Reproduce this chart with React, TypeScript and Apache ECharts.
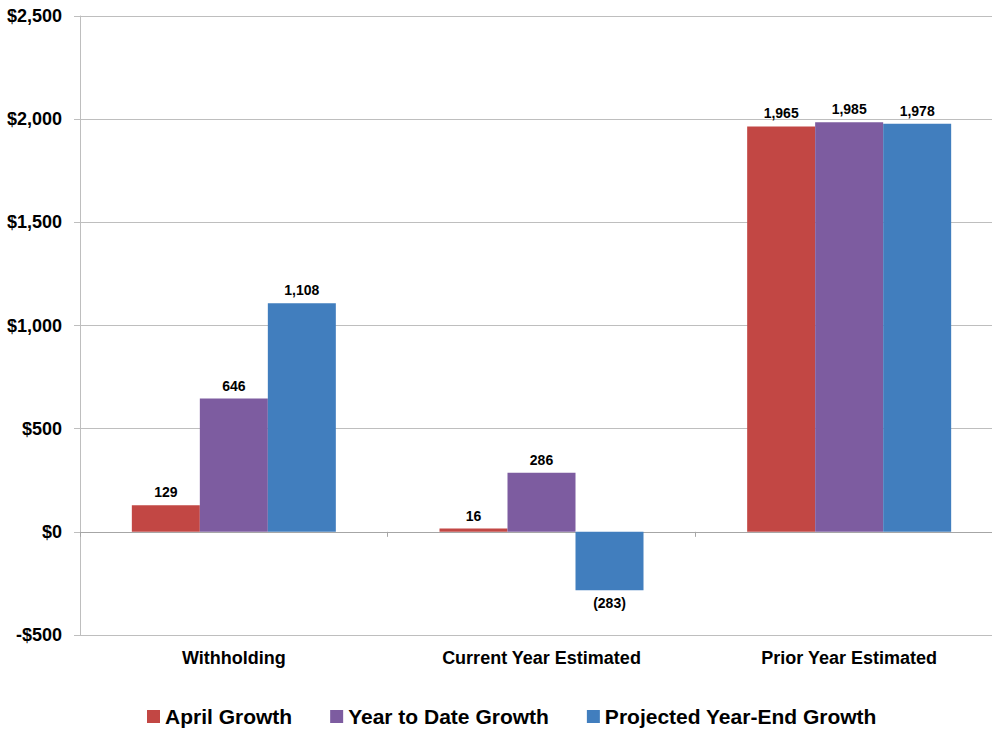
import React, { useEffect, useRef } from "react";
import * as echarts from "echarts";

const categories = ["Withholding", "Current Year Estimated", "Prior Year Estimated"];
const seriesNames = ["April Growth", "Year to Date Growth", "Projected Year-End Growth"];
const aprilGrowth = [129, 16, 1965];
const ytdGrowth = [646, 286, 1985];
const projectedGrowth = [1108, -283, 1978];
const colors = ["#C24744", "#7D5CA0", "#417EBE"];
const FONT = "Arial, 'Liberation Sans', sans-serif";

function fmtLabel(v: number) {
  const s = Math.abs(v).toLocaleString("en-US");
  return v < 0 ? `(${s})` : s;
}

export default function App() {
  const ref = useRef<HTMLDivElement>(null);
  useEffect(() => {
    if (!ref.current) return;
    const chart = echarts.init(ref.current, undefined, { renderer: "svg" });
    const all = [aprilGrowth, ytdGrowth, projectedGrowth];
    chart.setOption({
      animation: false,
      textStyle: { fontFamily: FONT },
      grid: { left: 80, top: 16, bottom: 95, right: 7, containLabel: false },
      legend: {
        top: 706,
        left: 147,
        padding: 0,
        itemWidth: 13,
        itemHeight: 13,
        itemGap: 38,
        icon: "rect",
        textStyle: { fontFamily: FONT, fontWeight: "bold", fontSize: 21, color: "#000" },
        data: seriesNames,
      },
      xAxis: [
        {
          type: "category",
          data: categories,
          position: "bottom",
          axisLine: { onZero: false, show: true, lineStyle: { color: "#BEBEBE" } },
          axisTick: { show: false },
          axisLabel: { fontFamily: FONT, fontWeight: "bold", fontSize: 18, color: "#000", margin: 14 },
        },
        {
          type: "category",
          data: categories,
          position: "bottom",
          axisLine: { onZero: true, show: true, lineStyle: { color: "#A6A6A6" } },
          axisTick: { show: true, length: 5, lineStyle: { color: "#A6A6A6" } },
          axisLabel: { show: false },
        },
      ],
      yAxis: {
        type: "value",
        min: -500,
        max: 2500,
        interval: 500,
        axisLine: { show: true, lineStyle: { color: "#BEBEBE" } },
        axisTick: { show: true, length: 6, lineStyle: { color: "#BEBEBE" } },
        splitLine: { show: true, lineStyle: { color: "#BEBEBE" } },
        axisLabel: {
          fontFamily: FONT,
          fontWeight: "bold",
          fontSize: 18,
          color: "#000",
          margin: 18,
          formatter: (v: number) => (v < 0 ? `-$${Math.abs(v).toLocaleString("en-US")}` : `$${v.toLocaleString("en-US")}`),
        },
      },
      series: seriesNames.map((name, i) => ({
        name,
        type: "bar",
        xAxisIndex: 0,
        barWidth: 68,
        barGap: "0%",
        itemStyle: { color: colors[i] },
        data: all[i].map((v) => ({
          value: v,
          label: {
            show: true,
            position: v < 0 ? "bottom" : "top",
            distance: 6,
            formatter: () => fmtLabel(v),
            fontFamily: FONT,
            fontWeight: "bold",
            fontSize: 14,
            color: "#000",
          },
        })),
      })),
    });
    return () => chart.dispose();
  }, []);
  return (
    <div style={{ position: "absolute", left: 0, top: 0, width: 992, height: 730, overflow: "hidden" }}>
      <div ref={ref} style={{ width: 1010, height: 730 }} />
    </div>
  );
}
